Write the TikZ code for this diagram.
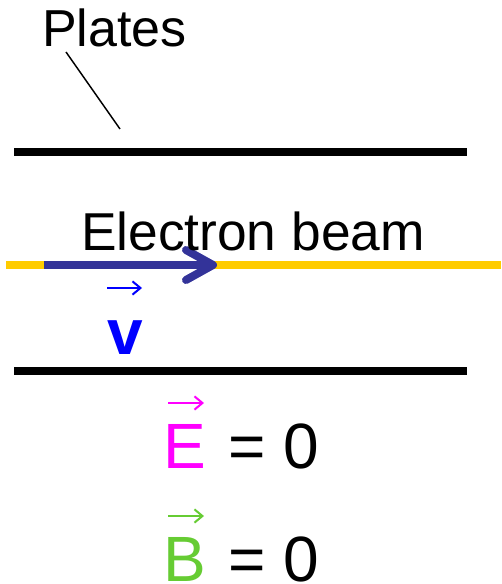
\documentclass[tikz,border=0pt]{standalone}
\usepackage{fontspec}
\setmainfont{Liberation Sans}
\usetikzlibrary{arrows.meta}
\definecolor{beamyellow}{HTML}{FFCC00}
\definecolor{beamblue}{HTML}{333399}
\definecolor{vblue}{HTML}{0000FF}
\definecolor{emag}{HTML}{FF00FF}
\definecolor{bgreen}{HTML}{66CC33}
\tikzset{
  plate/.style={line width=5.5pt},
  lbl/.style={anchor=base west, inner sep=0pt, outer sep=0pt},
  vecarrow/.style={line width=1.5pt, -{Straight Barb[length=6pt,width=10pt,line width=1.5pt]}},
}
\begin{document}
\begin{tikzpicture}[x=0.75pt,y=-0.75pt]
\useasboundingbox (0,0) rectangle (501,584);
\fill[white] (0,0) rectangle (501,584);
% plates
\coordinate (tpL) at (14,152); \coordinate (tpR) at (467,152);
\coordinate (bpL) at (14,371); \coordinate (bpR) at (467,371);
\draw[plate] (tpL) -- (tpR);
\draw[plate] (bpL) -- (bpR);
% label
\node[lbl, font=\fontsize{39pt}{44pt}\selectfont] (plates) at (42,47) {Plates};
\coordinate (ls) at (66,52); \coordinate (le) at (120,129);
\draw[line width=1.1pt] (ls) -- (le);
% beam
\coordinate (yL) at (6,265); \coordinate (yR) at (501,265);
\draw[beamyellow, line width=6pt] (yL) -- (yR);
\coordinate (bS) at (44,265); \coordinate (bT) at (213,265);
\coordinate (h1) at (186,250); \coordinate (h2) at (186,280);
\draw[beamblue, line width=6pt] (bS) -- (bT);
\draw[beamblue, line width=6pt, line cap=round, line join=round] (h1) -- (bT) -- (h2);
\node[lbl, font=\fontsize{40pt}{46pt}\selectfont] (eb) at (81,251) {Electron beam};
% v
\node[lbl, font=\fontsize{48pt}{54pt}\selectfont\bfseries, text=vblue] (v) at (107,354) {v};
\coordinate (va) at (107,288); \coordinate (vb) at (142,288);
\draw[vecarrow, vblue] (va) -- (vb);
% E = 0
\node[lbl, font=\fontsize{48pt}{54pt}\selectfont] (E) at (163,468) {\textcolor{emag}{E}\hspace{3.75pt} = 0};
\coordinate (ea) at (168,403); \coordinate (eb2) at (204,403);
\draw[vecarrow, emag] (ea) -- (eb2);
% B = 0
\node[lbl, font=\fontsize{48pt}{54pt}\selectfont] (B) at (163,581) {\textcolor{bgreen}{B}\hspace{3.75pt} = 0};
\coordinate (ba) at (168,516); \coordinate (bb) at (204,516);
\draw[vecarrow, bgreen] (ba) -- (bb);
\end{tikzpicture}
\end{document}
